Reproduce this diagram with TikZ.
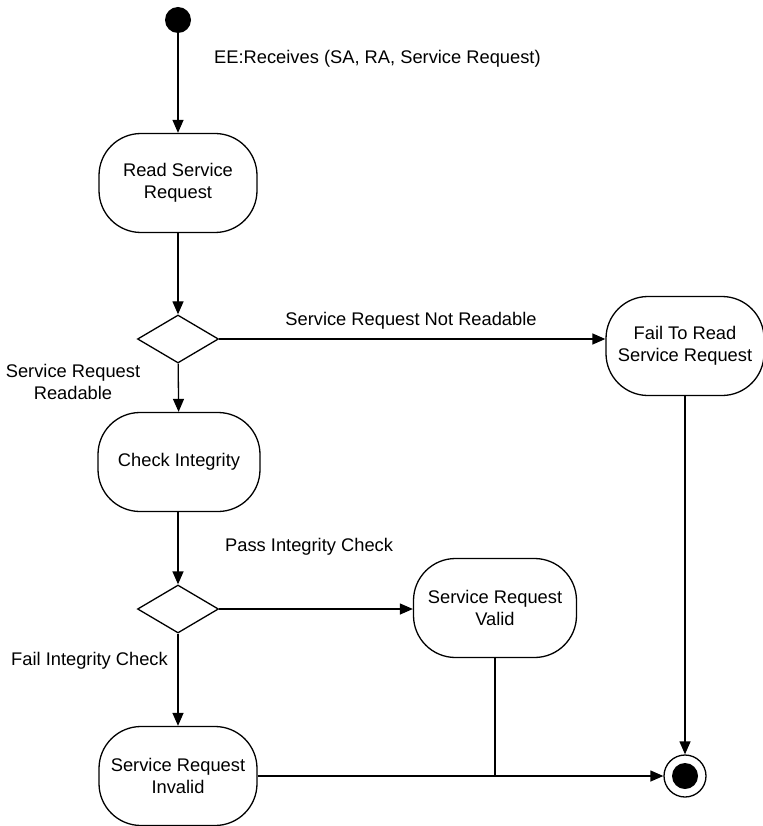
\documentclass[tikz,border=0pt]{standalone}
\usepackage{fontspec}
\setmainfont{Liberation Sans}
\usetikzlibrary{shapes.geometric,arrows.meta}
\begin{document}
\begin{tikzpicture}[x=1pt,y=-1pt,
  every node/.style={font=\fontsize{18.3}{22}\selectfont},
  activity/.style={draw,line width=1.3pt,rounded corners=42pt,align=center,
    minimum width=158pt,minimum height=99pt,inner sep=0pt},
  decision/.style={draw,diamond,line width=1.3pt,inner sep=0pt,aspect=1.69,
    minimum width=81pt,minimum height=48pt},
  flow/.style={line width=1.3pt,-{Triangle[length=13pt,width=11pt]}},
  plain/.style={line width=1.3pt},
  lbl/.style={inner sep=0pt}]
\useasboundingbox (0,0) rectangle (762,826);

% states
\node[circle,fill=black,minimum size=26pt,inner sep=0pt] (start) at (178,20) {};
\node[activity] (read) at (178,183) {Read Service\\Request};
\node[decision] (d1) at (178,339) {};
\node[activity,minimum width=162pt] (check) at (179,462) {Check Integrity};
\node[decision] (d2) at (178,609) {};
\node[activity] (invalid) at (178,776) {Service Request\\Invalid};
\node[activity,minimum width=163pt] (valid) at (495,608) {Service Request\\Valid};
\node[activity] (fail) at (685,346) {Fail To Read\\Service Request};
\node[circle,draw,line width=1.3pt,minimum size=42pt,inner sep=0pt] (end) at (685,776) {};
\node[circle,fill=black,minimum size=26pt,inner sep=0pt] (endin) at (end.center) {};

% transitions
\draw[flow] (start) -- (read);
\draw[flow] (read) -- (d1);
\draw[flow] (d1) -- (check);
\draw[flow] (d1.east) -- (d1.east -| fail.west);
\draw[flow] (check.south -| d2.north) -- (d2.north);
\draw[flow] (d2.east) -- (d2.east -| valid.west);
\draw[flow] (d2) -- (invalid);
\draw[flow] (fail.south) -- (end.north);
\coordinate (join) at (valid.south |- invalid.east);
\draw[plain] (valid.south) -- (join);
\draw[flow] (invalid.east) -- (end.west);

% guards and triggers
\node[lbl,anchor=base west] (trig) at (214,64) {EE:Receives (SA, RA, Service Request)};
\node[lbl,anchor=base] (notread) at (411,325) {Service Request Not Readable};
\node[lbl,align=center] (readable) at (73,382) {Service Request\\Readable};
\node[lbl,anchor=base west] (pass) at (225,551) {Pass Integrity Check};
\node[lbl,anchor=base west] (failchk) at (11,665) {Fail Integrity Check};
\end{tikzpicture}
\end{document}
